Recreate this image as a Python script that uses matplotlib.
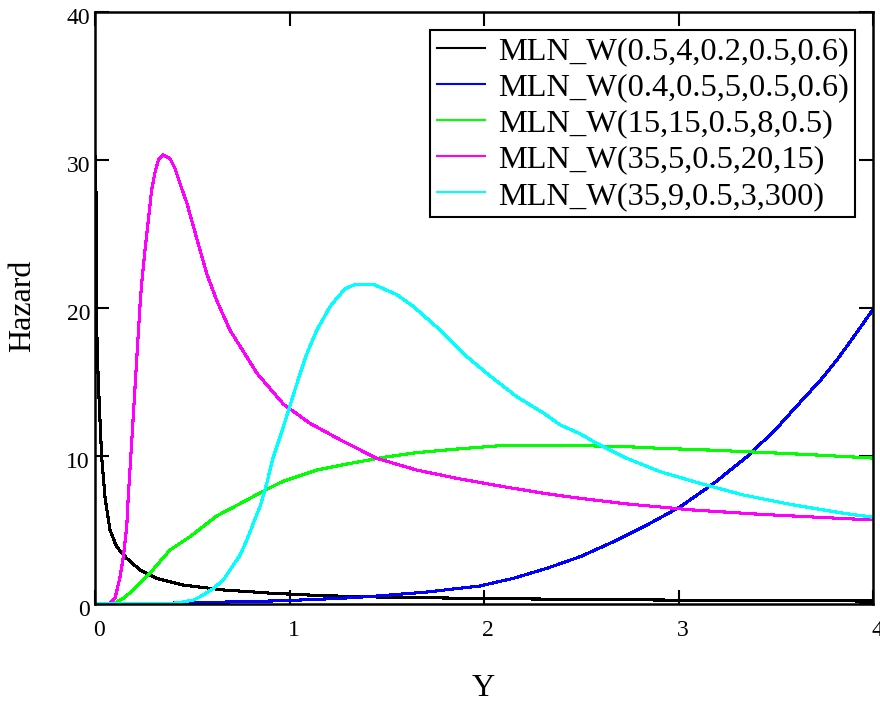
import matplotlib
matplotlib.use("Agg")
import matplotlib.pyplot as plt
from matplotlib.transforms import ScaledTranslation

plt.rcParams['font.family'] = ['Liberation Serif', 'DejaVu Serif']

# ---- data: hazard curves h(Y) read at sample points ----
x_black = [0.0045, 0.0055, 0.0067, 0.012, 0.021, 0.034, 0.051, 0.077, 0.111, 0.163,
           0.231, 0.317, 0.454, 0.66, 0.917, 1.174, 1.5, 2.0, 2.5, 3.0, 3.5, 4.0]
h_black = [30.2, 25.0, 20.1, 16.8, 13.8, 10.0, 7.25, 5.0, 3.87, 3.09,
           2.3, 1.73, 1.28, 0.95, 0.72, 0.56, 0.46, 0.37, 0.31, 0.26, 0.23, 0.20]

x_blue = [0.0, 0.5, 0.96, 1.26, 1.45, 1.7, 1.98, 2.152, 2.323, 2.495, 2.666,
          2.838, 3.009, 3.181, 3.352, 3.5, 3.644, 3.729, 3.815, 3.901, 4.0]
h_blue = [0.0, 0.08, 0.22, 0.38, 0.54, 0.8, 1.22, 1.74, 2.41, 3.2, 4.21,
          5.34, 6.57, 8.15, 9.95, 11.8, 13.9, 15.1, 16.5, 18.06, 19.9]

x_green = [0.0, 0.06, 0.103, 0.146, 0.197, 0.274, 0.386, 0.489, 0.626, 0.763, 0.883,
           0.969, 1.14, 1.312, 1.483, 1.655, 1.861, 2.066, 2.3, 2.495, 2.735,
           2.906, 3.163, 3.421, 3.678, 4.0]
h_green = [0.0, 0.0, 0.09, 0.38, 0.95, 1.96, 3.65, 4.55, 5.95, 6.9, 7.75,
           8.3, 9.05, 9.5, 9.91, 10.23, 10.47, 10.68, 10.72, 10.70, 10.63,
           10.52, 10.4, 10.25, 10.09, 9.86]

x_magenta = [0.0, 0.06, 0.077, 0.103, 0.129, 0.146, 0.163, 0.171, 0.184, 0.231,
             0.240, 0.257, 0.274, 0.291, 0.309, 0.326, 0.351, 0.386, 0.412, 0.437,
             0.472, 0.506, 0.540, 0.575, 0.626, 0.694, 0.780, 0.832, 0.969,
             1.106, 1.26, 1.449, 1.655, 1.861, 2.1, 2.306, 2.495, 2.735, 3.078,
             3.421, 3.764, 4.0]
h_magenta = [0.0, 0.0, 0.05, 0.38, 1.85, 3.2, 5.2, 7.25, 9.95, 20.1,
             21.7, 23.9, 25.9, 27.97, 29.2, 30.0, 30.34, 30.1, 29.4, 28.4,
             27.1, 25.5, 23.9, 22.3, 20.5, 18.5, 16.7, 15.6, 13.5,
             12.2, 11.1, 9.84, 9.05, 8.49, 7.93, 7.48, 7.14, 6.76, 6.35,
             6.06, 5.83, 5.68]

x_cyan = [0.0, 0.35, 0.43, 0.506, 0.557, 0.609, 0.66, 0.694, 0.746, 0.78, 0.814,
          0.849, 0.883, 0.9, 0.917, 0.969, 1.012, 1.055, 1.089, 1.14, 1.209,
          1.243, 1.286, 1.329, 1.38, 1.432, 1.483, 1.552, 1.637, 1.758, 1.895,
          2.032, 2.169, 2.306, 2.392, 2.495, 2.563, 2.735, 2.906, 3.112, 3.335,
          3.592, 3.849, 4.0]
h_cyan = [0.0, 0.0, 0.09, 0.27, 0.61, 1.06, 1.62, 2.3, 3.3, 4.3, 5.45,
          6.6, 8.15, 9.05, 9.95, 12.0, 13.8, 15.6, 16.9, 18.5, 20.1,
          20.65, 21.3, 21.55, 21.6, 21.6, 21.3, 20.9, 20.1, 18.7, 16.9,
          15.4, 14.0, 12.9, 12.1, 11.5, 10.97, 9.84, 8.94, 8.15, 7.36,
          6.69, 6.13, 5.86]

labels = ["MLN_W(0.5,4,0.2,0.5,0.6)",
          "MLN_W(0.4,0.5,5,0.5,0.6)",
          "MLN_W(15,15,0.5,8,0.5)",
          "MLN_W(35,5,0.5,20,15)",
          "MLN_W(35,9,0.5,3,300)"]
colors = ["#000000", "#0000ff", "#00ff00", "#ff00ff", "#00ffff"]

x_ticks = [0, 1, 2, 3, 4]
y_ticks = [0, 10, 20, 30, 40]

# ---- figure ----
fig = plt.figure(figsize=(8.8, 7.02), dpi=100)
ax = fig.add_axes([95 / 880, 98 / 702, 778 / 880, 592 / 702])

series = [(x_black, h_black), (x_blue, h_blue), (x_green, h_green),
          (x_magenta, h_magenta), (x_cyan, h_cyan)]
for (xs, ys), c, lab in zip(series, colors, labels):
    ax.plot(xs, ys, color=c, lw=1.5, label=lab, antialiased=False)

ax.set_xlim(0, 4)
ax.set_ylim(0, 40)

ax.tick_params(direction='in', length=10, width=1.5, top=True, right=True,
               labelsize=17, colors='black')
ax.tick_params(axis='x', pad=11.5)
ax.tick_params(axis='y', pad=3.6)
ax.set_xticks(x_ticks)
ax.set_yticks(y_ticks)
ax.set_xticklabels([str(t) for t in x_ticks])
ax.set_yticklabels([str(t) for t in y_ticks])

# nudge tick labels like the original layout
dx = ScaledTranslation(0.04, 0, fig.dpi_scale_trans)
dy = ScaledTranslation(0, -0.04, fig.dpi_scale_trans)
for lbl in ax.get_xticklabels():
    lbl.set_transform(lbl.get_transform() + dx)
    lbl.set_clip_on(False)
for lbl in ax.get_yticklabels():
    lbl.set_transform(lbl.get_transform() + dy)

for sp in ax.spines.values():
    sp.set_linewidth(1.8)
    sp.set_color('black')

ax.set_xlabel("Y", fontsize=23, va='center')
ax.xaxis.set_label_coords(0.499, -0.142)
ax.set_ylabel("Hazard", fontsize=23, va='center')
ax.yaxis.set_label_coords(-0.0925, 0.503)

leg = ax.legend(loc='upper right', fontsize=23.3, frameon=True, fancybox=False,
                edgecolor='black', framealpha=1, borderaxespad=0.56,
                handlelength=1.5, handletextpad=0.38, labelspacing=0.2,
                borderpad=0.2)
leg.get_frame().set_linewidth(1.5)

fig.savefig("out.png", dpi=100)
